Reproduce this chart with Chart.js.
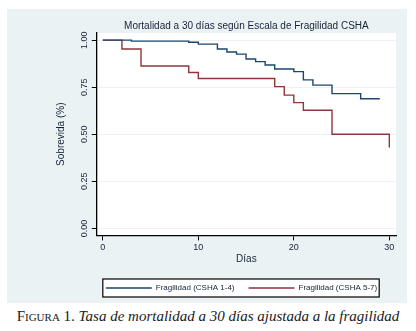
<!DOCTYPE html>
<html>
<head>
<meta charset="utf-8">
<script src="https://cdn.jsdelivr.net/npm/chart.js@4"></script>
<style>
  body { margin: 0; background: #fff; width: 416px; height: 331px; position: relative; overflow: hidden; }
  #panel { position: absolute; left: 7px; top: 9px; width: 400px; height: 294px; background: #eaf2f3; }
  #caption { position: absolute; left: 0; top: 308px; width: 416px; text-align: center; white-space: nowrap;
    font-family: "Liberation Serif", "DejaVu Serif", serif; font-size: 15px; color: #1a1a1a; }
</style>
</head>
<body>
<div id="panel"><canvas id="sobrevida" width="400" height="294"></canvas></div>
<div id="caption"><span style="font-variant: small-caps">Figura 1.</span> <i>Tasa de mortalidad a 30 días ajustada a la fragilidad</i></div>
<script>
// curvas de Kaplan-Meier
const diasCsha14 = [0, 3, 9, 10, 12, 13, 14, 15, 16, 17, 18, 20, 21, 22, 24, 27, 29];
const sobrevidaCsha14 = [1, 0.995, 0.989, 0.979, 0.953, 0.937, 0.926, 0.90, 0.886, 0.868, 0.847, 0.833, 0.789, 0.761, 0.716, 0.689, 0.689];

const diasCsha57 = [0, 2, 4, 9, 10, 18, 19, 20, 21, 24, 30];
const sobrevidaCsha57 = [1, 0.953, 0.863, 0.828, 0.796, 0.753, 0.708, 0.668, 0.628, 0.50, 0.43];

const etiquetas = ["Fragilidad (CSHA 1-4)", "Fragilidad (CSHA 5-7)"];
const ticksDias = [0, 10, 20, 30];
const ticksSobrevida = [0, 0.25, 0.5, 0.75, 1];

const colorTexto = "#16233a";
const desplazamientoLeyenda = 16;

Chart.defaults.font.family = "'Liberation Sans', Arial, sans-serif";

const puntos = (xs, ys) => xs.map((x, i) => ({ x: x, y: ys[i] }));

// fondo blanco del area del grafico y caja de la leyenda
const fondos = {
  id: "fondos",
  afterLayout(chart) {
    chart.legend.left += desplazamientoLeyenda;
    chart.legend.right += desplazamientoLeyenda;
  },
  beforeDraw(chart) {
    const { ctx, chartArea: a, legend } = chart;
    ctx.save();
    ctx.fillStyle = "#fff";
    ctx.fillRect(a.left, a.top, a.right - a.left, a.bottom - a.top);
    const cajas = legend.legendHitBoxes;
    if (cajas && cajas.length) {
      const x0 = cajas[0].left - 3;
      const x1 = cajas[cajas.length - 1].left + cajas[cajas.length - 1].width + 2;
      const yc = cajas[0].top + cajas[0].height / 2;
      ctx.fillRect(x0, yc - 9, x1 - x0, 18);
      ctx.strokeStyle = "#000";
      ctx.lineWidth = 1.2;
      ctx.strokeRect(x0, yc - 9, x1 - x0, 18);
    }
    ctx.restore();
  }
};

new Chart(document.getElementById("sobrevida"), {
  type: "line",
  data: {
    datasets: [
      {
        label: etiquetas[0],
        data: puntos(diasCsha14, sobrevidaCsha14),
        borderColor: "#1a476f",
        backgroundColor: "#1a476f",
        borderWidth: 1.4,
        pointRadius: 0,
        stepped: "before",
      },
      {
        label: etiquetas[1],
        data: puntos(diasCsha57, sobrevidaCsha57),
        borderColor: "#90353b",
        backgroundColor: "#90353b",
        borderWidth: 1.4,
        pointRadius: 0,
        stepped: "before",
      },
    ],
  },
  options: {
    responsive: false,
    animation: false,
    devicePixelRatio: 1,
    layout: {
      padding: { left: 48, right: 11, top: 0, bottom: 1 },
    },
    plugins: {
      title: {
        display: true,
        fullSize: false,
        text: "Mortalidad a 30 días según Escala de Fragilidad CSHA",
        color: colorTexto,
        font: { size: 10, weight: "normal" },
        padding: { top: 11, bottom: 1 },
      },
      legend: {
        position: "bottom",
        labels: { color: colorTexto, font: { size: 8 }, boxWidth: 46, boxHeight: 0, padding: 14 },
      },
      tooltip: { enabled: false },
    },
    scales: {
      x: {
        type: "linear",
        min: -0.63,
        max: 30.7,
        afterBuildTicks: (s) => { s.ticks = ticksDias.map((v) => ({ value: v })); },
        grid: { drawOnChartArea: false, tickLength: 5, tickColor: "#000" },
        border: { color: "#000", width: 1.3 },
        ticks: { color: colorTexto, font: { size: 9 }, padding: 1.6, maxRotation: 0 },
        title: { display: true, text: "Días", color: colorTexto, font: { size: 10, lineHeight: 1 }, padding: { top: 0, bottom: 5.6 } },
      },
      y: {
        min: -0.037,
        max: 1.038,
        afterBuildTicks: (s) => { s.ticks = ticksSobrevida.map((v) => ({ value: v })); },
        grid: { color: "#eaf2f3", tickLength: 5, tickColor: "#000" },
        border: { color: "#000", width: 1.3 },
        ticks: {
          color: colorTexto,
          font: { size: 9 },
          minRotation: 90,
          maxRotation: 90,
          crossAlign: "center",
          padding: -1,
          callback: (v) => v.toFixed(2),
        },
        title: { display: true, text: "Sobrevida (%)", color: colorTexto, font: { size: 10 }, padding: { top: 0, bottom: 16 } },
      },
    },
  },
  plugins: [fondos],
});
</script>
</body>
</html>
